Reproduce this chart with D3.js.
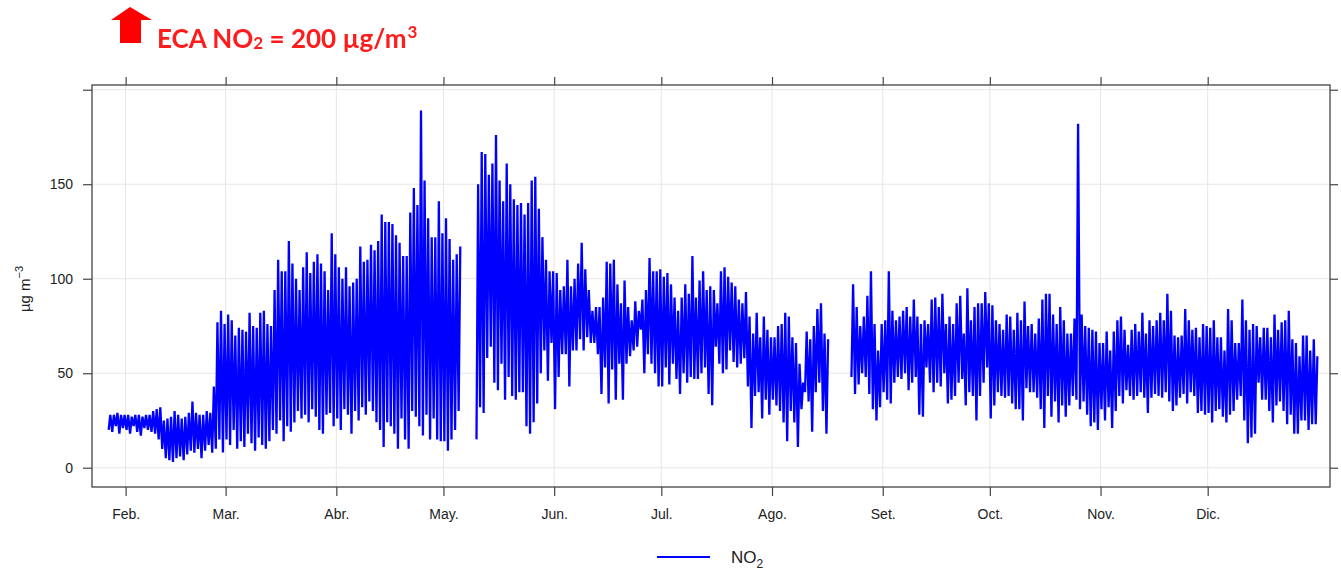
<!DOCTYPE html>
<html>
<head>
<meta charset="utf-8">
<script src="https://cdn.jsdelivr.net/npm/d3@7"></script>
<style>
body { margin: 0; background: #fff; }
text { font-family: "Liberation Sans", Arial, sans-serif; fill: #222; }
</style>
</head>
<body>
<svg class="chart" width="1341" height="570"></svg>
<script>
// daily high / low of the hourly NO2 series (ug/m3)
var year = 2018;
var hiJan = [28,28,29,28,28];
var loJan = [20,19,22,18,21];
var hiFeb = [28,27,28,28,27,28,28,30,31,32,25,26,27,30,28,26,27,29,35,29,28,28,30,29,43,77,83,76];
var loFeb = [20,18,22,19,17,21,20,19,18,15,10,5,4,3,5,6,4,7,9,8,10,5,9,12,8,10,15,8];
var hiMar = [81,78,70,74,73,72,82,75,74,82,83,76,75,94,110,104,104,120,108,100,94,106,114,103,109,113,108,104,94,124,113];
var loMar = [15,12,20,10,14,11,18,13,9,16,12,10,14,20,18,25,14,22,19,24,30,26,28,24,31,27,20,18,28,29,22];
var hiApr = [106,100,106,96,98,100,117,109,110,118,115,120,134,130,130,129,123,119,112,112,135,148,139,189,152,132,122,122,141,124];
var loApr = [26,20,31,28,18,30,25,32,28,35,30,24,20,11,24,22,18,10,26,15,10,30,27,22,17,28,15,26,15,14];
var hiMay = [132,121,110,113,117,null,null,null,null,150,167,166,155,161,176,152,141,161,150,142,139,140,134,140,152,154,137,122,110,104,104];
var loMay = [14,9,15,20,30,null,null,null,null,15,32,29,58,64,45,41,55,36,48,38,36,40,40,22,18,24,34,50,62,46,66];
var hiJun = [103,94,96,110,96,100,108,119,105,94,83,85,85,90,109,108,110,97,87,99,85,78,88,83,89,94,111,104,104,105];
var loJun = [31,48,60,60,43,62,62,68,62,69,66,66,60,39,53,34,52,36,55,36,55,59,62,64,73,50,60,55,50,43];
var hiJul = [101,103,97,90,83,90,97,92,112,90,99,104,94,96,94,87,104,106,101,98,96,89,87,93,80,71,82,69,80,73,69];
var loJul = [43,53,44,55,47,39,50,45,48,47,47,50,53,39,33,64,55,50,52,62,56,53,55,58,43,21,38,40,26,36,28];
var hiAug = [69,75,76,82,80,69,66,55,45,72,68,75,84,87,71,68,null,null,null,null,null,null,97,85,75,80,91,104,76,62,76];
var loAug = [36,33,30,24,14,30,24,11,31,40,35,19,40,45,30,18,null,null,null,null,null,null,48,39,44,50,48,39,31,25,32];
var hiSep = [78,104,83,78,80,83,85,80,89,80,76,78,76,89,90,85,92,76,80,76,87,91,71,95,78,85,87,87,93,87];
var loSep = [40,36,34,45,48,47,50,41,45,48,28,27,53,45,40,45,43,50,34,36,38,45,47,33,40,38,25,38,45,53];
var hiOct = [86,78,76,73,81,80,73,82,78,88,75,76,71,79,89,92,92,81,76,85,78,71,71,79,182,81,75,74,73,72,66];
var loOct = [26,33,40,38,37,38,34,31,31,25,42,40,40,37,31,21,38,27,35,24,33,27,33,38,36,31,35,28,22,24,20];
var hiNov = [66,72,62,72,78,80,73,65,73,76,72,82,71,78,75,78,82,78,92,83,70,69,70,84,78,73,74,69,76,75];
var loNov = [31,25,32,21,30,38,34,41,38,36,38,40,37,29,37,39,38,37,40,35,30,33,37,39,34,40,38,29,30,28];
var hiDec = [74,78,69,69,62,84,78,66,66,89,78,73,76,75,69,74,74,69,81,73,77,78,83,68,66,59,70,70,62,68,59];
var loDec = [29,24,30,31,27,24,28,30,36,38,25,13,16,18,45,36,36,30,24,33,35,30,23,28,18,18,25,25,20,23,23];

var monthLabels = ["Feb.","Mar.","Abr.","May.","Jun.","Jul.","Ago.","Set.","Oct.","Nov.","Dic."];
var yTicks = [0,50,100,150,200];
var yLabels = [0,50,100,150];

var months = [
	{m:0, first:27, hi:hiJan, lo:loJan},
	{m:1, first:1, hi:hiFeb, lo:loFeb},
	{m:2, first:1, hi:hiMar, lo:loMar},
	{m:3, first:1, hi:hiApr, lo:loApr},
	{m:4, first:1, hi:hiMay, lo:loMay},
	{m:5, first:1, hi:hiJun, lo:loJun},
	{m:6, first:1, hi:hiJul, lo:loJul},
	{m:7, first:1, hi:hiAug, lo:loAug},
	{m:8, first:1, hi:hiSep, lo:loSep},
	{m:9, first:1, hi:hiOct, lo:loOct},
	{m:10, first:1, hi:hiNov, lo:loNov},
	{m:11, first:1, hi:hiDec, lo:loDec}
];

var data = [];
months.forEach(function(mo){
	mo.hi.forEach(function(h, i){
		var day = mo.first + i;
		if(h === null){
			data.push({t: new Date(Date.UTC(year, mo.m, day, 12)), v: null});
			return;
		}
		data.push({t: new Date(Date.UTC(year, mo.m, day, 6)), v: mo.lo[i]});
		data.push({t: new Date(Date.UTC(year, mo.m, day, 17)), v: h});
	});
});

var margin = {top: 85, right: 11, bottom: 83, left: 92};
var width = 1341 - margin.left - margin.right,
	height = 570 - margin.top - margin.bottom;

var x = d3.scaleUtc()
	.domain([new Date(Date.UTC(year, 0, 22, 14)), new Date(Date.UTC(year + 1, 0, 4, 6))])
	.range([0, width]);
var y = d3.scaleLinear()
	.domain([-10.2, 202.5])
	.range([height, 0]);

var monthTicks = monthLabels.map(function(d, i){ return new Date(Date.UTC(year, i + 1, 1)); });

var svg = d3.select('.chart');

// title
var defs = svg.append('defs');
defs.append('filter').attr('id', 'soft')
	.append('feGaussianBlur').attr('stdDeviation', 0.6);
defs.append('clipPath').attr('id', 'plotclip')
	.append('rect').attr('width', width).attr('height', height);

var title = svg.append('g').attr('filter', 'url(#soft)');
title.append('path')
	.attr('d', 'M130,7 L152,20 L141,20 L141,43 L120,43 L120,20 L111,20 Z')
	.attr('fill', '#ff0000');
var tt = title.append('text')
	.attr('x', 157)
	.attr('y', 48)
	.style('font-family', 'Lato, "Open Sans", sans-serif')
	.style('font-weight', 'bold')
	.style('font-size', '26px')
	.style('fill', '#ff1a1a');
tt.append('tspan').text('ECA NO');
tt.append('tspan').attr('dy', 1).style('font-size', '17px').text('2');
tt.append('tspan').attr('dy', -1).text(' = 200 µg/m');
tt.append('tspan').attr('dx', 1).attr('dy', -10).style('font-size', '17px').text('3');

var chart = svg.append('g')
	.attr('transform', 'translate(' + margin.left + ',' + margin.top + ')');

// grid
chart.append('g').selectAll('line.gx')
	.data(monthTicks).enter().append('line')
	.attr('x1', function(d){ return x(d); })
	.attr('x2', function(d){ return x(d); })
	.attr('y1', 0).attr('y2', height)
	.attr('stroke', '#e6e6e6').attr('stroke-width', 1);
chart.append('g').selectAll('line.gy')
	.data(yTicks).enter().append('line')
	.attr('x1', 0).attr('x2', width)
	.attr('y1', function(d){ return y(d); })
	.attr('y2', function(d){ return y(d); })
	.attr('stroke', '#e6e6e6').attr('stroke-width', 1);

// series
var line = d3.line()
	.defined(function(d){ return d.v !== null; })
	.x(function(d){ return x(d.t); })
	.y(function(d){ return y(d.v); });

chart.append('path')
	.datum(data)
	.attr('clip-path', 'url(#plotclip)')
	.attr('fill', 'none')
	.attr('stroke', '#0000ff')
	.attr('stroke-width', 2.3)
	.attr('stroke-linejoin', 'bevel')
	.attr('d', line);

// axes
var xAxis = d3.axisBottom(x).tickValues(monthTicks)
	.tickFormat(function(d, i){ return monthLabels[i]; })
	.tickSize(9).tickSizeOuter(0).tickPadding(13);
var xTop = d3.axisTop(x).tickValues(monthTicks).tickFormat('').tickSize(8).tickSizeOuter(0);
var yAxis = d3.axisLeft(y).tickValues(yTicks)
	.tickFormat(function(d){ return yLabels.indexOf(d) >= 0 ? d : ''; })
	.tickSize(9).tickSizeOuter(0).tickPadding(10);
var yRight = d3.axisRight(y).tickValues(yTicks).tickFormat('').tickSize(8).tickSizeOuter(0);

chart.append('g').attr('class', 'x axis')
	.attr('transform', 'translate(0,' + height + ')').call(xAxis);
chart.append('g').attr('class', 'x top').call(xTop);
chart.append('g').attr('class', 'y axis').call(yAxis);
chart.append('g').attr('class', 'y right')
	.attr('transform', 'translate(' + width + ',0)').call(yRight);

chart.selectAll('.domain').remove();
chart.selectAll('.tick line').attr('stroke', '#444').attr('stroke-width', 1.2);
chart.selectAll('.tick text')
	.style('font-family', '"Liberation Sans", Arial, sans-serif')
	.style('font-size', '14px')
	.style('fill', '#222');

// box
chart.append('rect')
	.attr('width', width).attr('height', height)
	.attr('fill', 'none').attr('stroke', '#444').attr('stroke-width', 1.3);

// y label
var yl = svg.append('text')
	.attr('transform', 'translate(30,289) rotate(-90)')
	.attr('text-anchor', 'middle')
	.style('font-size', '15px');
yl.append('tspan').text('µg m');
yl.append('tspan').attr('dy', -7).style('font-size', '11px').text('\u22123');

// legend
var legend = svg.append('g');
legend.append('line')
	.attr('x1', 657).attr('x2', 710).attr('y1', 557).attr('y2', 557)
	.attr('stroke', '#0000ff').attr('stroke-width', 2);
var lt = legend.append('text')
	.attr('x', 731).attr('y', 563)
	.style('font-size', '17px');
lt.append('tspan').text('NO');
lt.append('tspan').attr('dy', 5).style('font-size', '12px').text('2');
</script>
</body>
</html>
